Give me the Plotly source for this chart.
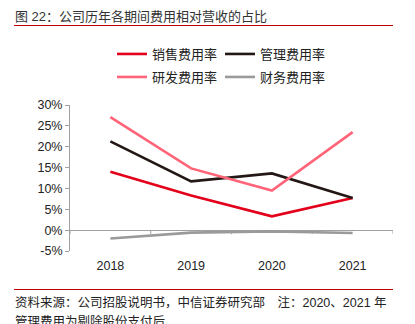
import plotly.graph_objects as go

# Expense ratios (% of revenue) by year
years = ["2018", "2019", "2020", "2021"]
selling = [14.0, 8.3, 3.3, 7.7]
admin = [21.3, 11.7, 13.6, 7.7]
rnd = [27.1, 14.8, 9.5, 23.5]
finance = [-2.0, -0.6, -0.3, -0.7]

series_names = ["销售费用率", "管理费用率", "研发费用率", "财务费用率"]
series_values = [selling, admin, rnd, finance]
series_colors = ["#E2001A", "#231815", "#FF6478", "#9A9A9A"]
series_legend = ["legend", "legend", "legend2", "legend2"]

y_tickvals = [-5, 0, 5, 10, 15, 20, 25, 30]
y_ticktext = ["-5%", "0%", "5%", "10%", "15%", "20%", "25%", "30%"]

title_text = "图 22：公司历年各期间费用相对营收的占比"
source_text = "资料来源：公司招股说明书，中信证券研究部　注：2020、2021 年"
source_text2 = "管理费用为剔除股份支付后"

W, H = 415, 324
ML, MR, MT, MB = 70, 22, 105, 73
PW, PH = W - ML - MR, H - MT - MB

FONT = "Liberation Sans, Arial, Noto Sans CJK SC, sans-serif"
TEXT_COLOR = "#222222"
AXIS_COLOR = "#A0A0A0"


def px_x(px):
    return (px - ML) / PW


def px_y(py):
    return (H - MB - py) / PH


fig = go.Figure()
for name, vals, color, lg in zip(series_names, series_values, series_colors, series_legend):
    fig.add_trace(go.Scatter(
        x=list(range(len(years))), y=vals, name=name, mode="lines",
        line=dict(color=color, width=2.6), legend=lg,
    ))

# category boundary ticks hanging below the zero line
shapes = []
for i in range(len(years) + 1):
    shapes.append(dict(
        type="line", xref="x", yref="y", ysizemode="pixel", yanchor=0,
        x0=i - 0.5, x1=i - 0.5, y0=0, y1=-4,
        line=dict(color=AXIS_COLOR, width=1),
    ))
# red rules under the title and above the source note
for py in (25.5, 289.5):
    shapes.append(dict(
        type="line", xref="paper", yref="paper",
        x0=px_x(14), x1=px_x(393), y0=px_y(py), y1=px_y(py),
        line=dict(color="#C00000", width=1),
    ))

annotations = [
    dict(text=title_text, xref="paper", yref="paper", x=px_x(13), y=px_y(16),
         xanchor="left", yanchor="middle", showarrow=False,
         font=dict(family=FONT, size=13, color="#333333")),
    dict(text=source_text, xref="paper", yref="paper", x=px_x(13), y=px_y(302),
         xanchor="left", yanchor="middle", showarrow=False,
         font=dict(family=FONT, size=12.5, color=TEXT_COLOR)),
    dict(text=source_text2, xref="paper", yref="paper", x=px_x(13), y=px_y(321),
         xanchor="left", yanchor="middle", showarrow=False,
         font=dict(family=FONT, size=12.5, color=TEXT_COLOR)),
]

legend_common = dict(
    orientation="h", xref="paper", yref="paper", xanchor="left", yanchor="middle",
    font=dict(family=FONT, size=13, color=TEXT_COLOR), bgcolor="rgba(0,0,0,0)",
    entrywidth=63, entrywidthmode="pixels", itemwidth=30, tracegroupgap=0,
)

fig.update_layout(
    width=W, height=H,
    margin=dict(l=ML, r=MR, t=MT, b=MB, pad=0),
    paper_bgcolor="white", plot_bgcolor="white",
    font=dict(family=FONT, size=12.5, color=TEXT_COLOR),
    showlegend=True,
    legend=dict(x=px_x(112), y=px_y(54), **legend_common),
    legend2=dict(x=px_x(112), y=px_y(77), **legend_common),
    xaxis=dict(
        range=[-0.5, len(years) - 0.5], tickmode="array",
        tickvals=list(range(len(years))), ticktext=years,
        showline=False, showgrid=False, zeroline=False,
        ticks="outside", ticklen=3, tickcolor="rgba(0,0,0,0)",
        tickfont=dict(family=FONT, size=12.5, color=TEXT_COLOR),
    ),
    yaxis=dict(
        range=[-5, 30], tickmode="array", tickvals=y_tickvals, ticktext=y_ticktext,
        showline=True, linecolor=AXIS_COLOR, linewidth=1,
        ticks="outside", ticklen=4, tickcolor=AXIS_COLOR,
        showgrid=False, zeroline=True, zerolinecolor=AXIS_COLOR, zerolinewidth=1,
        tickfont=dict(family=FONT, size=12.5, color=TEXT_COLOR),
    ),
    shapes=shapes,
    annotations=annotations,
)

fig.write_html("out.html")
